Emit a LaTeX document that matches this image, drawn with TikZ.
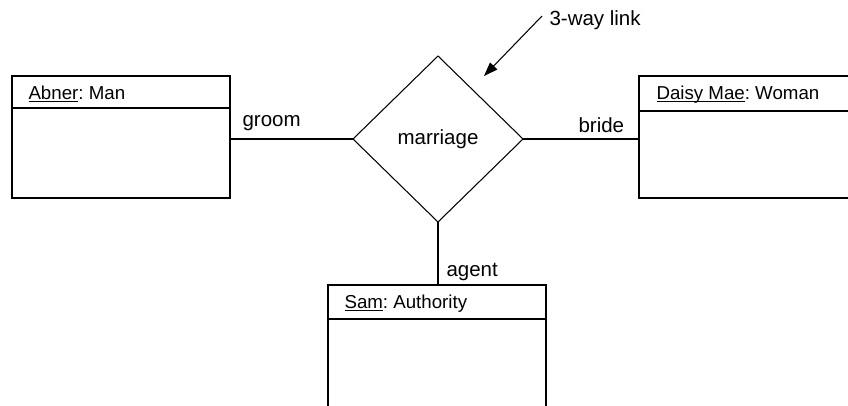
\documentclass[tikz,border=0pt]{standalone}
\usepackage{fontspec}
\setmainfont{Liberation Sans}
\usetikzlibrary{shapes.geometric,arrows.meta}
\frenchspacing
% object name underlined just below the baseline
\newcommand\ulname[1]{\setbox0\hbox{#1}\rlap{\rule[-2.6bp]{\wd0}{0.9bp}}\box0}
\begin{document}
\begin{tikzpicture}[x=1bp,y=-1bp,line width=1.05bp,
  objbox/.style={draw, rectangle, minimum width=218bp, minimum height=122bp, inner sep=0pt, outer sep=0pt},
  objtitle/.style={anchor=base west, inner sep=0pt, font=\fontsize{18.7bp}{22bp}\selectfont},
  rolelabel/.style={anchor=base west, inner sep=0pt, font=\fontsize{20.5bp}{24bp}\selectfont},
  linkshape/.style={draw, diamond, minimum width=170bp, minimum height=166bp, inner sep=0pt, outer sep=0pt,
    font=\fontsize{20.5bp}{24bp}\selectfont},
  pointer/.style={-{Triangle[length=14bp,width=10bp]}}
]
\clip (0,0) rectangle (848,405);

% objects
\node[objbox] (abner) at (121,137) {};
\node[objbox, minimum width=240bp, anchor=west] (daisy) at (639,137) {};
\node[objbox] (sam)   at (437,346) {};

\draw ([yshift=-32bp]abner.north west) -- ([yshift=-32bp]abner.north east);
\draw ([yshift=-35bp]daisy.north west) -- ([yshift=-35bp]daisy.north east);
\draw ([yshift=-34bp]sam.north west) -- ([yshift=-34bp]sam.north east);

\node[objtitle] (abnert) at ([xshift=16bp,yshift=-23bp]abner.north west) {\ulname{Abner}: Man};
\node[objtitle] (daisyt) at ([xshift=17bp,yshift=-23bp]daisy.north west) {\ulname{Daisy Mae}: Woman};
\node[objtitle] (samt)   at ([xshift=16bp,yshift=-23bp]sam.north west) {\ulname{Sam}: Authority};

% n-ary association
\node[linkshape] (marriage) at (438,139) {marriage};

\draw (marriage.west) -- (marriage.west -| abner.east);
\draw (marriage.east) -- (marriage.east -| daisy.west);
\draw (marriage.south) -- (marriage.south |- sam.north);

\node[rolelabel] (groom) at (242,126) {groom};
\node[rolelabel] (bride) at (578,132) {bride};
\node[rolelabel] (agent) at (446,276) {agent};

% note
\node[rolelabel] (note) at (549,25) {3-way link};
\coordinate (notetail) at (542,16);
\coordinate (notehead) at (484,76);
\draw[pointer] (notetail) -- (notehead);
\end{tikzpicture}
\end{document}
